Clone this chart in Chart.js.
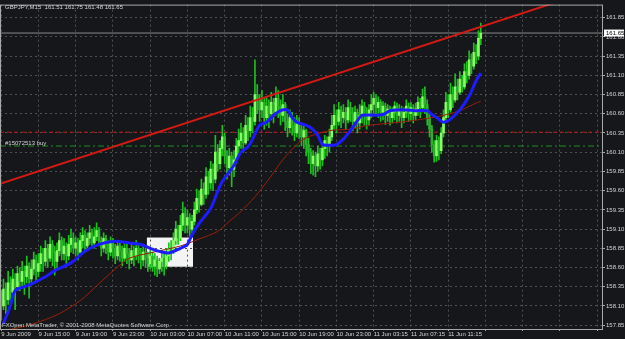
<!DOCTYPE html>
<html><head><meta charset="utf-8">
<script src="https://cdn.jsdelivr.net/npm/chart.js@4.4.0/dist/chart.umd.min.js"></script>
<style>html,body{margin:0;padding:0;background:#15171a;overflow:hidden}canvas{display:block}</style>
</head><body>
<canvas id="c" width="625" height="339"></canvas>
<script>
// ---- texts ----
const titleText = "GBPJPY,M15  161.51 161.75 161.48 161.65";
const footerText = "FXOpen MetaTrader, \u00A9 2001-2008 MetaQuotes Software Corp.";
const orderText = "#15072513 buy";

// ---- axes ----
const xTickIdx = [0,16,32,48,64,80,96,112,128,144,160,176,192,208,224,240,256];
const xTickLabels = ["9 Jun 2009","9 Jun 15:00","9 Jun 19:00","9 Jun 23:00","10 Jun 03:00","10 Jun 07:00","10 Jun 11:00","10 Jun 15:00","10 Jun 19:00","10 Jun 23:00","11 Jun 03:15","11 Jun 07:15","11 Jun 11:15","","","",""];
const yTicks = [157.85,158.10,158.35,158.60,158.85,159.10,159.35,159.60,159.85,160.10,160.35,160.60,160.85,161.10,161.35,161.60,161.85];

// ---- M15 bars (open of first bar, then closes/highs/lows) ----
const firstOpen = 158.25;
const closes = [158.10,158.32,158.18,158.40,158.28,158.45,158.35,158.52,158.42,
158.55,158.48,158.62,158.45,158.58,158.70,158.55,158.65,158.78,
158.68,158.85,158.72,158.90,158.80,158.68,158.82,158.95,158.78,158.88,158.75,158.90,158.98,
158.85,158.92,158.80,158.95,159.02,158.88,158.98,159.05,158.92,159.00,159.08,158.95,158.85,158.98,158.90,158.80,158.92,158.85,158.75,158.88,158.82,158.72,158.85,158.78,158.70,
158.82,158.75,158.85,158.78,158.70,158.80,158.72,158.65,158.75,
158.62,158.70,158.58,158.68,158.72,158.62,158.75,158.85,
158.80,158.95,159.10,158.98,159.15,159.30,159.15,159.25,159.10,159.20,159.35,
159.50,159.42,159.62,159.55,159.78,159.70,159.88,159.75,160.10,
159.95,160.15,160.30,160.05,159.90,160.05,159.88,160.00,160.18,160.25,
160.35,160.22,160.45,160.38,160.55,160.50,160.85,
160.80,160.65,160.75,160.55,160.70,160.60,
160.75,160.62,160.80,160.70,160.58,160.72,160.50,160.42,160.55,160.45,160.35,160.48,160.40,
160.30,160.38,160.20,160.10,159.95,160.05,159.92,160.08,160.00,160.15,160.25,160.18,160.30,
160.45,160.58,160.50,160.65,160.55,160.62,160.52,160.68,160.60,
160.50,160.62,160.48,160.58,160.70,160.60,160.52,160.65,160.72,160.80,160.68,160.75,160.62,160.70,160.58,160.66,160.55,160.62,160.70,160.58,160.65,160.55,160.62,160.70,160.60,160.68,160.58,160.66,160.75,160.68,
160.82,160.72,160.55,160.40,
160.20,160.05,160.25,160.12,160.35,
160.55,160.75,160.65,160.85,160.78,160.95,160.88,
161.05,160.95,161.15,161.10,161.30,161.22,161.40,
161.35,161.58,161.65];
const highs = [158.30,158.45,158.40,158.55,158.48,158.58,158.52,158.62,158.60,
158.68,158.62,158.75,158.66,158.70,158.80,158.76,158.78,158.88,
158.85,158.95,158.90,159.00,158.95,158.88,158.92,159.05,159.00,158.98,158.92,159.02,159.10,
159.05,159.00,158.98,159.05,159.12,159.08,159.05,159.15,159.10,159.12,159.18,159.12,159.00,159.05,159.02,158.95,159.00,158.98,158.90,158.95,158.92,158.88,158.92,158.90,158.85,
158.92,158.88,158.95,158.90,158.85,158.88,158.85,158.80,158.82,
158.80,158.78,158.75,158.72,158.82,158.78,158.85,158.92,
158.95,159.05,159.20,159.15,159.28,159.45,159.38,159.35,159.30,159.28,159.45,
159.62,159.60,159.75,159.70,159.90,159.85,159.98,159.95,160.32,
160.20,160.25,160.45,160.35,160.12,160.15,160.10,160.12,160.28,160.40,
160.48,160.42,160.58,160.55,160.70,160.68,161.30,
160.98,160.85,160.90,160.80,160.82,160.78,
160.88,160.80,160.95,160.90,160.78,160.85,160.75,160.60,160.65,160.62,160.55,160.58,160.55,
160.48,160.45,160.40,160.28,160.15,160.12,160.10,160.18,160.15,160.22,160.32,160.30,160.40,
160.58,160.72,160.65,160.75,160.70,160.72,160.68,160.78,160.75,
160.68,160.70,160.66,160.72,160.78,160.75,160.68,160.72,160.85,160.88,160.85,160.82,160.78,160.76,160.74,160.72,160.70,160.68,160.76,160.74,160.72,160.70,160.68,160.78,160.74,160.75,160.72,160.74,160.82,160.80,
160.92,160.95,160.78,160.60,
160.45,160.25,160.32,160.30,160.42,
160.65,160.88,160.85,161.00,160.95,161.12,161.05,
161.15,161.10,161.25,161.28,161.42,161.38,161.52,
161.50,161.68,161.78];
const lows = [157.92,158.05,158.00,158.12,158.15,158.22,158.05,158.30,158.30,
158.35,158.25,158.40,158.20,158.38,158.50,158.42,158.48,158.55,
158.55,158.62,158.60,158.68,158.62,158.50,158.60,158.75,158.70,158.70,158.62,158.70,158.80,
158.78,158.75,158.70,158.75,158.85,158.80,158.82,158.90,158.85,158.85,158.95,158.88,158.75,158.80,158.78,158.70,158.75,158.72,158.65,158.70,158.68,158.62,158.68,158.65,158.58,
158.65,158.62,158.70,158.66,158.58,158.62,158.60,158.55,158.58,
158.55,158.50,158.48,158.52,158.55,158.50,158.58,158.68,
158.70,158.78,158.90,158.90,158.95,159.08,159.05,159.05,159.00,159.02,159.15,
159.30,159.32,159.40,159.42,159.50,159.55,159.62,159.60,159.70,
159.85,159.88,160.05,159.95,159.75,159.80,159.65,159.78,159.95,160.05,
160.15,160.10,160.20,160.25,160.30,160.35,160.45,
160.60,160.50,160.55,160.40,160.45,160.42,
160.52,160.48,160.58,160.55,160.45,160.50,160.38,160.30,160.35,160.32,160.25,160.30,160.28,
160.18,160.15,160.05,159.95,159.82,159.80,159.78,159.85,159.88,159.92,160.02,160.05,160.10,
160.25,160.40,160.35,160.45,160.42,160.48,160.40,160.48,160.50,
160.38,160.42,160.35,160.40,160.48,160.45,160.40,160.45,160.55,160.60,160.58,160.55,160.50,160.52,160.46,160.50,160.45,160.48,160.52,160.48,160.50,160.42,160.48,160.55,160.50,160.52,160.48,160.52,160.58,160.55,
160.62,160.60,160.45,160.30,
160.10,159.97,159.98,160.00,160.08,
160.30,160.50,160.55,160.62,160.68,160.75,160.78,
160.85,160.88,160.92,161.00,161.05,161.12,161.18,
161.25,161.30,161.50];

// ---- indicators (bar index -> price) ----
const fastMAIdx = [1,4,6,10,14,19,23,30,36,42,49,55,60,64,68,72,77,80,82,85,90,93,95,100,103,106,108,111,114,117,120,123,125,127,130,133,136,138,141,144,147,150,153,155,161,164,167,171,174,178,183,185,188,190,193,197,201,204,206];
const fastMA = [157.87,158.11,158.30,158.35,158.40,158.48,158.56,158.66,158.81,158.90,158.94,158.92,158.90,158.85,158.81,158.79,158.85,158.90,159.03,159.17,159.37,159.59,159.72,159.93,160.10,160.17,160.27,160.45,160.49,160.58,160.64,160.65,160.55,160.49,160.46,160.42,160.32,160.20,160.19,160.20,160.27,160.38,160.51,160.58,160.58,160.59,160.64,160.65,160.65,160.64,160.64,160.59,160.53,160.49,160.53,160.65,160.83,161.03,161.13];
const slowMAIdx = [0,8,17,25,34,42,49,55,64,77,85,93,98,103,109,115,122,130,141,150,158,171,181,190,197,204,206];
const slowMA = [157.78,157.82,157.90,158.00,158.17,158.39,158.58,158.72,158.79,158.88,158.97,159.07,159.20,159.33,159.52,159.75,160.04,160.27,160.38,160.40,160.45,160.49,160.53,160.58,160.64,160.74,160.76];

// ---- objects ----
const trendX = [-0.5, 258.5];
const trendY = [159.69, 162.25];
const bidPrice = 161.65;
const stopPrice = 160.36;
const orderPrice = 160.18;
const boxX = [62.6, 82.4];
const boxY = [158.61, 158.99];

const BG = '#15171a';
const TXT = '#d4d4d4';
const FONT = '"Liberation Sans", Arial, sans-serif';

const N = closes.length;
const opens = [firstOpen].concat(closes.slice(0, N - 1));
const wickData = closes.map((c, i) => ({x: i, y: [Math.min(lows[i], opens[i], c), Math.max(highs[i], opens[i], c)]}));
const bodyData = closes.map((c, i) => ({x: i, y: [opens[i], c]}));
const bodyColors = closes.map((c, i) => c >= opens[i] ? '#86ff62' : '#2fae2f');
const pts = (xs, ys) => xs.map((x, k) => ({x: x, y: ys[k]}));
const hline = p => [{x: -0.5, y: p}, {x: 258.5, y: p}];

const decor = {
  id: 'decor',
  beforeDraw(chart) {
    const ctx = chart.ctx, xs = chart.scales.x, ys = chart.scales.y;
    ctx.save();
    ctx.fillStyle = BG;
    ctx.fillRect(0, 0, chart.width, chart.height);
    const x1 = xs.getPixelForValue(boxX[0]), x2 = xs.getPixelForValue(boxX[1]);
    const y1 = ys.getPixelForValue(boxY[1]), y2 = ys.getPixelForValue(boxY[0]);
    ctx.fillStyle = '#f4f4f4';
    ctx.fillRect(x1, y1, x2 - x1, y2 - y1);
    ctx.restore();
  },
  afterDraw(chart) {
    const ctx = chart.ctx, a = chart.chartArea, ys = chart.scales.y;
    ctx.save();
    ctx.strokeStyle = '#a8a8a8';
    ctx.lineWidth = 1;
    ctx.strokeRect(a.left + 0.5, a.top + 0.5, a.right - a.left - 1, a.bottom - a.top);
    ctx.fillStyle = TXT;
    ctx.font = '6px ' + FONT;
    ctx.textBaseline = 'middle';
    ctx.textAlign = 'left';
    ctx.fillText(titleText, 5, 7);
    ctx.fillText(footerText, 2, 325);
    ctx.fillText(orderText, 5, ys.getPixelForValue(orderPrice) - 3);
    const py = ys.getPixelForValue(bidPrice);
    ctx.fillStyle = '#ffffff';
    ctx.fillRect(a.right + 1, py - 3.5, 20, 7);
    ctx.fillStyle = '#000000';
    ctx.fillText(bidPrice.toFixed(2), a.right + 3, py);
    ctx.restore();
  }
};

new Chart(document.getElementById('c'), {
  type: 'bar',
  data: {
    datasets: [
      {type: 'line', data: pts(trendX, trendY), borderColor: '#d21a14', borderWidth: 2, pointRadius: 0, order: 0},
      {type: 'line', data: pts(fastMAIdx, fastMA), borderColor: '#1c1cff', borderWidth: 3, pointRadius: 0, tension: 0.3, order: 0},
      {type: 'line', data: pts(slowMAIdx, slowMA), borderColor: '#9a2008', borderWidth: 1, pointRadius: 0, tension: 0.3, order: 0},
      {data: bodyData, backgroundColor: bodyColors, borderWidth: 0, barThickness: 2, minBarLength: 1, grouped: false, order: 1},
      {data: wickData, backgroundColor: '#1fbf1f', borderWidth: 0, barThickness: 1, grouped: false, order: 2},
      {type: 'line', data: hline(bidPrice), borderColor: '#8a8a8a', borderWidth: 1, pointRadius: 0, order: 3},
      {type: 'line', data: hline(stopPrice), borderColor: '#c01818', borderWidth: 1, borderDash: [4, 3], pointRadius: 0, order: 3},
      {type: 'line', data: hline(orderPrice), borderColor: '#1f8f1f', borderWidth: 1, borderDash: [6, 3, 2, 3], pointRadius: 0, order: 3}
    ]
  },
  options: {
    responsive: false,
    devicePixelRatio: 1,
    animation: false,
    events: [],
    layout: {padding: {top: 1, left: 0, right: 0, bottom: 0}},
    plugins: {legend: {display: false}, tooltip: {enabled: false}},
    scales: {
      x: {
        type: 'linear', min: -0.5, max: 258.5, offset: false,
        grid: {color: '#4e5052', offset: false, drawTicks: true, tickLength: 2, tickColor: '#a8a8a8'},
        border: {display: false, dash: [2, 3]},
        afterBuildTicks: s => { s.ticks = xTickIdx.map(v => ({value: v})); },
        afterFit: s => { s.height = 10; },
        ticks: {
          autoSkip: false, maxRotation: 0, align: 'start', padding: 0,
          color: TXT, font: {family: FONT, size: 6},
          callback: (v, i) => xTickLabels[i]
        }
      },
      y: {
        position: 'right', min: 157.80, max: 162.02,
        grid: {color: '#4e5052', drawTicks: true, tickLength: 2, tickColor: '#a8a8a8'},
        border: {display: false, dash: [2, 3]},
        afterBuildTicks: s => { s.ticks = yTicks.map(v => ({value: v})); },
        afterFit: s => { s.width = 22; },
        ticks: {padding: 1, color: TXT, font: {family: FONT, size: 6}, callback: v => v.toFixed(2)}
      }
    }
  },
  plugins: [decor]
});
</script>
</body></html>
